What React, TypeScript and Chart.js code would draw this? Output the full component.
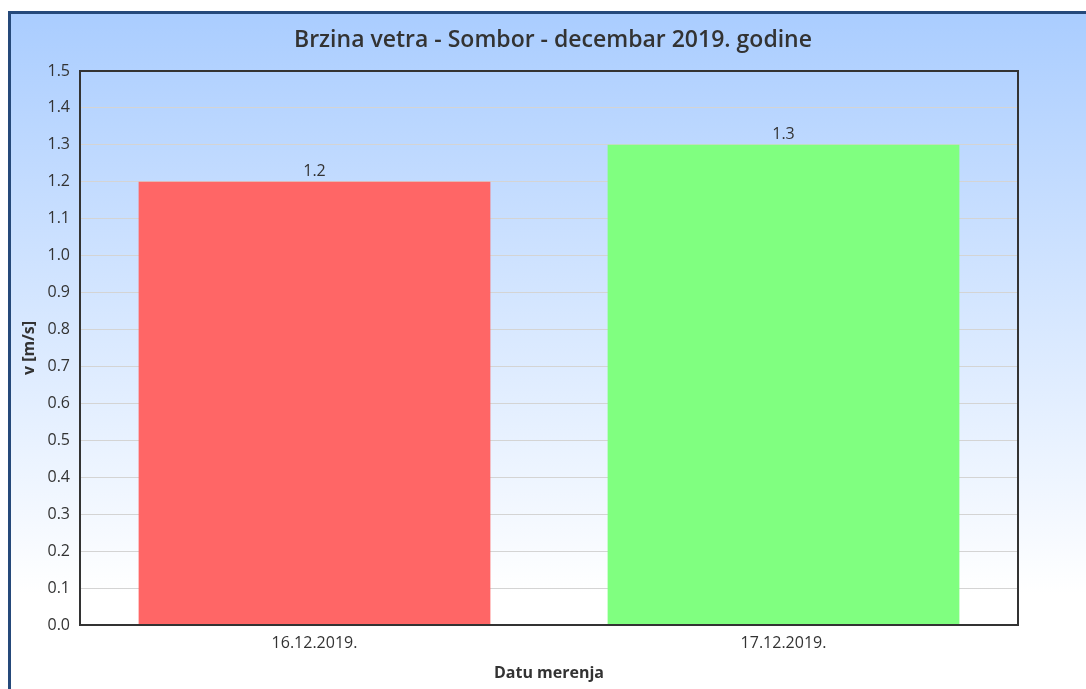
import React, { useEffect, useRef } from "react";
import { Chart, registerables } from "chart.js";

Chart.register(...registerables);

const categories = ["16.12.2019.", "17.12.2019."];
const values = [1.2, 1.3];
const barColors = ["#ff6666", "#80ff80"];
const titleText = "Brzina vetra - Sombor - decembar 2019. godine";
const yTitle = "v [m/s]";
const xTitle = "Datu merenja";

const FONT = "'Open Sans', 'DejaVu Sans', sans-serif";

const frameAndLabels = {
  id: "frameAndLabels",
  afterDatasetsDraw(chart: any) {
    const { ctx, chartArea } = chart;
    ctx.save();
    // chart title
    ctx.font = `600 23px ${FONT}`;
    ctx.fillStyle = "#333333";
    ctx.textAlign = "center";
    ctx.textBaseline = "middle";
    ctx.fillText(titleText, 542, 26);
    // value labels
    const meta = chart.getDatasetMeta(0);
    ctx.font = `16px ${FONT}`;
    ctx.fillStyle = "#333333";
    ctx.textAlign = "center";
    ctx.textBaseline = "middle";
    meta.data.forEach((bar: any, i: number) => {
      ctx.fillText(String(values[i]), bar.x, bar.y - 10);
    });
    // frame
    ctx.strokeStyle = "#333333";
    ctx.lineWidth = 2;
    ctx.strokeRect(chartArea.left, chartArea.top, chartArea.right - chartArea.left, chartArea.bottom - chartArea.top);
    ctx.restore();
  },
};

export default function App() {
  const ref = useRef<HTMLCanvasElement | null>(null);
  useEffect(() => {
    if (!ref.current) return;
    const chart = new Chart(ref.current, {
      type: "bar",
      data: {
        labels: categories,
        datasets: [
          {
            data: values,
            backgroundColor: barColors,
            borderWidth: 0,
            barPercentage: 0.75,
            categoryPercentage: 1,
          },
        ],
      },
      options: {
        animation: false,
        responsive: false,
        maintainAspectRatio: false,
        layout: { padding: { left: 0, right: 68, top: 57, bottom: 0 } },
        plugins: {
          legend: { display: false },
          tooltip: { enabled: false },
          title: { display: false },
        },
        scales: {
          x: {
            grid: { display: false, drawTicks: false },
            border: { display: false },
            ticks: { color: "#333333", font: { family: FONT, size: 16 }, padding: 9 },
            title: {
              display: true,
              text: xTitle,
              color: "#333333",
              font: { family: FONT, size: 16, weight: "bold" as any },
              padding: { top: 0, bottom: 5.5 },
            },
            afterFit(scale: any) {
              scale.height = 64;
            },
          },
          y: {
            min: 0,
            max: 1.5,
            grid: { color: "#d4d4d4", lineWidth: 1, drawTicks: false },
            border: { display: false },
            ticks: {
              stepSize: 0.1,
              color: "#333333",
              font: { family: FONT, size: 16 },
              padding: 10,
              callback: (v: any) => Number(v).toFixed(1),
            },
            title: {
              display: true,
              text: yTitle,
              color: "#333333",
              font: { family: FONT, size: 16, weight: "bold" as any },
              padding: { top: 8.5, bottom: 0 },
            },
            afterFit(scale: any) {
              scale.width = 69;
            },
          },
        },
      },
      plugins: [frameAndLabels],
    });
    return () => chart.destroy();
  }, []);

  return (
    <div
      style={{
        position: "fixed",
        left: 8,
        top: 11,
        width: 1100,
        height: 700,
        borderTop: "3px solid #25497a",
        borderLeft: "3px solid #25497a",
        background: "linear-gradient(to bottom, #aacdff 0px, #ffffff 580px)",
        boxSizing: "border-box",
      }}
    >
      <canvas ref={ref} width={1075} height={675} style={{ display: "block", width: 1075, height: 675 }} />
    </div>
  );
}
